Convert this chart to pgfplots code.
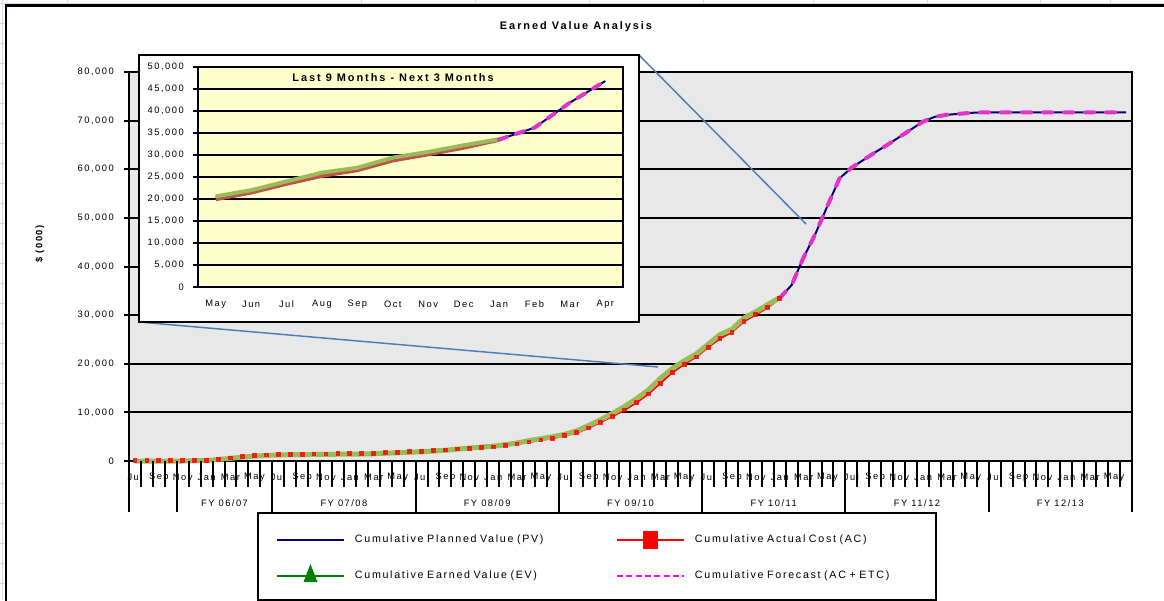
\documentclass[border=0pt]{standalone}
\usepackage{pgfplots}
\usepackage{pgfplotstable}
\pgfplotsset{compat=1.18}
\usepackage{fontspec}
\setmainfont{Liberation Sans}
\newfontfamily\lsp[LetterSpace=16]{Liberation Sans}
\newfontfamily\lspt[LetterSpace=18]{Liberation Sans}

\definecolor{plotgray}{RGB}{232,232,232}
\definecolor{insetyellow}{RGB}{255,255,204}
\definecolor{evgreen}{RGB}{155,187,89}
\definecolor{acbrick}{RGB}{192,80,77}
\definecolor{pvnavy}{RGB}{0,0,128}
\definecolor{fcmag}{RGB}{228,52,200}
\definecolor{legmag}{RGB}{255,0,255}
\definecolor{leggreen}{RGB}{0,128,0}
\definecolor{linkblue}{RGB}{74,126,187}
\definecolor{cellline}{RGB}{212,220,234}

% ---- cumulative values, $ (000); month 0 = Jul 2006 ----
\pgfplotstableread{
m ev ac
0 0 80
1 0 80
2 0 80
3 0 80
4 0 80
5 50 130
6 100 180
7 300 380
8 550 630
9 800 880
10 1000 1080
11 1150 1230
12 1250 1330
13 1300 1380
14 1300 1380
15 1350 1430
16 1350 1430
17 1400 1480
18 1400 1480
19 1450 1530
20 1500 1580
21 1600 1680
22 1700 1780
23 1800 1880
24 1900 1980
25 2050 2130
26 2200 2280
27 2450 2450
28 2650 2600
29 2850 2750
30 3050 2900
31 3350 3200
32 3700 3500
33 4200 3900
34 4600 4300
35 5000 4700
36 5500 5200
37 6200 5800
38 7300 6800
39 8500 8000
40 9800 9200
41 11200 10500
42 12800 12000
43 14600 13800
44 17000 16000
45 19000 18200
46 20600 19900
47 22000 21400
48 24000 23400
49 26000 25200
50 27100 26500
51 29400 28700
52 30700 30100
53 32200 31600
54 33600 33400
}\actuals

\pgfplotstableread{
m pv
0 0
1 0
2 0
3 0
4 0
5 0
6 0
7 150
8 400
9 650
10 850
11 1000
12 1100
13 1150
14 1150
15 1200
16 1200
17 1250
18 1250
19 1300
20 1350
21 1450
22 1550
23 1650
24 1750
25 1900
26 2050
27 2300
28 2500
29 2700
30 2900
31 3200
32 3550
33 4050
34 4450
35 4850
36 5350
37 6050
38 7150
39 8350
40 9650
41 11050
42 12650
43 14450
44 16850
45 18850
46 20450
47 21850
48 23850
49 25850
50 26950
51 29250
52 30550
53 32050
54 33500
55 36200
56 41900
57 46800
58 52500
59 58100
60 60300
61 61900
62 63500
63 65000
64 66600
65 68200
66 69800
67 70800
68 71200
69 71400
70 71600
71 71700
72 71700
73 71700
74 71700
75 71700
76 71700
77 71700
78 71700
79 71700
80 71700
81 71700
82 71700
83 71700
}\planned

\pgfplotstableread{
m fc
54 33500
55 36200
56 41900
57 46800
58 52500
59 58100
60 60300
61 61900
62 63500
63 65000
64 66600
65 68200
66 69800
67 70800
68 71200
69 71400
70 71600
71 71700
72 71700
73 71700
74 71700
75 71700
76 71700
77 71700
78 71700
79 71700
80 71700
81 71700
82 71700
83 71700
}\forecast

% ---- last 9 months / next 3 months; 0 = May 2010 ----
\pgfplotstableread{
m ev ac
0 20600 19900
1 22000 21400
2 24000 23400
3 26000 25200
4 27100 26500
5 29400 28700
6 30700 30100
7 32200 31600
8 33600 33400
}\recent

\pgfplotstableread{
m pv
0 20450
1 21850
2 23850
3 25850
4 26950
5 29250
6 30550
7 32050
8 33500
9 36200
10 41900
11 46800
}\recentpv

\pgfplotstableread{
m fc
8 33500
9 36200
10 41900
11 46800
}\recentfc

\newcommand\tickfont{\lsp\fontsize{7}{8}\selectfont}

\begin{document}
\begin{tikzpicture}

% spreadsheet cells behind the chart object
\begin{scope}[x=0.75pt,y=-0.75pt]
  \draw[cellline, line width=0.75pt] (0,3) -- (1164,3);
  \foreach \cx in {67,361,475,589,703,813,927,1040,1110}
    \draw[cellline, line width=0.75pt] (\cx,0) -- (\cx,4);
  \draw[cellline, line width=0.75pt] (2.5,0) -- (2.5,600);
  \foreach \cy in {23,43,...,600}
    \draw[cellline, line width=0.75pt] (0,\cy) -- (5,\cy);
  % chart area frame
  \draw[black, line width=1.6pt] (6,605) -- (6,5.5) -- (1170,5.5);
  % title and axis title
  \node[font=\lspt\bfseries\fontsize{8.2}{10}\selectfont] at (576,27) {Earned Value Analysis};
  \node[rotate=90, font=\lsp\bfseries\fontsize{7}{8}\selectfont] at (40,244) {\$ (000)};
\end{scope}

% ---------------- main chart ----------------
\begin{axis}[
  at={(96.75pt,-345.75pt)}, anchor=south west,
  scale only axis, width=752.25pt, height=291.75pt,
  xmin=-0.5, xmax=83.5, ymin=0, ymax=80000,
  clip=false, scaled y ticks=false,
  axis background/.style={fill=plotgray},
  axis line style={black, line width=1.6pt},
  ytick={0,10000,20000,30000,40000,50000,60000,70000,80000},
  yticklabels={0,{10,000},{20,000},{30,000},{40,000},{50,000},{60,000},{70,000},{80,000}},
  ymajorgrids, y grid style={black, line width=1.5pt},
  ytick pos=left, ytick align=outside, major tick length=3.75pt,
  ytick style={black, line width=1.5pt},
  yticklabel style={font=\tickfont, anchor=east, inner sep=0pt, xshift=-7.5pt},
  xtick={0,2,...,82},
  xticklabels={Jul,Sep,Nov,Jan,Mar,May,Jul,Sep,Nov,Jan,Mar,May,Jul,Sep,Nov,Jan,Mar,May,Jul,Sep,Nov,Jan,Mar,May,Jul,Sep,Nov,Jan,Mar,May,Jul,Sep,Nov,Jan,Mar,May,Jul,Sep,Nov,Jan,Mar,May},
  xtick style={draw=none},
  xticklabel style={font=\tickfont, anchor=center, inner sep=0pt, yshift=-12pt},
  legend columns=2, legend cell align=left,
  legend style={at={(0.1276,-0.1311)}, anchor=north west, draw=black, line width=1.5pt,
    fill=white, inner xsep=13.5pt, inner ysep=10pt, row sep=8.75pt,
    font=\lsp\fontsize{8}{9.5}\selectfont,
    /tikz/column 1/.style={column sep=7.5pt},
    /tikz/column 2/.style={nodes={inner sep=0pt, text width=195.75pt, align=left}},
    /tikz/column 3/.style={column sep=7.5pt},
    /tikz/column 4/.style={nodes={inner sep=0pt, text width=167.25pt, align=left}}},
  after end axis/.code={
    \foreach \b in {-0.5,0.5,...,83.5}
      \draw[black, line width=1.5pt] (axis cs:\b,0) -- ++(0pt,-19.5pt);
    \foreach \b in {-0.5,3.5,11.5,23.5,35.5,47.5,59.5,71.5,83.5}
      \draw[black, line width=1.5pt] (axis cs:\b,0) -- ++(0pt,-38.25pt);
    \node[font=\tickfont] at ([yshift=-31.5pt]axis cs:7.5,0) {FY 06/07};
    \node[font=\tickfont] at ([yshift=-31.5pt]axis cs:17.5,0) {FY 07/08};
    \node[font=\tickfont] at ([yshift=-31.5pt]axis cs:29.5,0) {FY 08/09};
    \node[font=\tickfont] at ([yshift=-31.5pt]axis cs:41.5,0) {FY 09/10};
    \node[font=\tickfont] at ([yshift=-31.5pt]axis cs:53.5,0) {FY 10/11};
    \node[font=\tickfont] at ([yshift=-31.5pt]axis cs:65.5,0) {FY 11/12};
    \node[font=\tickfont] at ([yshift=-31.5pt]axis cs:77.5,0) {FY 12/13};
  },
]
\addlegendimage{legend image code/.code={
  \path[draw=none, fill=none] (0pt,-8pt) rectangle (50.25pt,10.25pt);
  \draw[pvnavy, line width=1.5pt] (0pt,0pt) -- (50.25pt,0pt);}}
\addlegendentry{Cumulative Planned Value (PV)}
\addlegendimage{legend image code/.code={
  \path[draw=none, fill=none] (0pt,-8pt) rectangle (50.25pt,10.25pt);
  \draw[red, line width=1.5pt] (0pt,0pt) -- (50.25pt,0pt);
  \fill[red, draw=none] (19.5pt,-6.4pt) rectangle (30.75pt,6.4pt);}}
\addlegendentry{Cumulative Actual Cost (AC)}
\addlegendimage{legend image code/.code={
  \path[draw=none, fill=none] (0pt,-8pt) rectangle (50.25pt,10.25pt);
  \draw[leggreen, line width=1.5pt] (0pt,0pt) -- (50.25pt,0pt);
  \fill[leggreen, draw=none] (25.1pt,9pt) -- (19.9pt,-4.5pt) -- (30.4pt,-4.5pt) -- cycle;}}
\addlegendentry{Cumulative Earned Value (EV)}
\addlegendimage{legend image code/.code={
  \path[draw=none, fill=none] (0pt,-8pt) rectangle (50.25pt,10.25pt);
  \draw[legmag, line width=1.5pt, dash pattern=on 4.5pt off 2.5pt] (0pt,0pt) -- (50.25pt,0pt);}}
\addlegendentry{Cumulative Forecast (AC + ETC)}

\addplot[forget plot, pvnavy, line width=1.5pt] table[x=m, y=pv] {\planned};
\addplot[forget plot, red, line width=1.4pt, mark=square*, mark size=1.1pt,
  mark options={fill=acbrick, draw=none, opacity=0.8}] table[x=m, y=ac] {\actuals};
\addplot[forget plot, evgreen, line width=3.75pt, line join=round] table[x=m, y=ev] {\actuals};
\addplot[forget plot, fcmag, line width=3pt, line cap=round,
  dash pattern=on 6.75pt off 9pt] table[x=m, y=fc] {\forecast};
\end{axis}

% connector lines from the detail panel
\begin{scope}[x=0.75pt,y=-0.75pt]
  \draw[linkblue, line width=1.1pt] (639,55) -- (806,224);
  \draw[linkblue, line width=1.1pt] (139,322) -- (658,367);
  \draw[black, line width=1.6pt, fill=white] (139,55) rectangle (639,322);
\end{scope}

% ---------------- detail panel ----------------
\begin{axis}[
  at={(148.5pt,-215.25pt)}, anchor=south west,
  scale only axis, width=318.75pt, height=165pt,
  xmin=-0.5, xmax=11.5, ymin=0, ymax=50000,
  scaled y ticks=false,
  axis background/.style={fill=insetyellow},
  axis line style={black, line width=1.8pt},
  ytick={0,5000,10000,15000,20000,25000,30000,35000,40000,45000,50000},
  yticklabels={0,{5,000},{10,000},{15,000},{20,000},{25,000},{30,000},{35,000},{40,000},{45,000},{50,000}},
  ymajorgrids, y grid style={black, line width=1.5pt},
  ytick pos=left, ytick align=outside, major tick length=3.75pt,
  ytick style={black, line width=1.5pt},
  yticklabel style={font=\tickfont, anchor=east, inner sep=0pt, xshift=-6.75pt},
  xtick={0,...,11},
  xticklabels={May,Jun,Jul,Aug,Sep,Oct,Nov,Dec,Jan,Feb,Mar,Apr},
  xtick style={draw=none},
  xticklabel style={font=\tickfont, anchor=center, inner sep=0pt, yshift=-12.75pt},
]
\addplot[pvnavy, line width=1.5pt] table[x=m, y=pv] {\recentpv};
\addplot[acbrick, line width=2.6pt, line join=round] table[x=m, y=ac] {\recent};
\addplot[evgreen, line width=3pt, line join=round] table[x=m, y=ev] {\recent};
\addplot[fcmag, line width=3pt, line cap=round, dash pattern=on 6pt off 7.5pt] table[x=m, y=fc] {\recentfc};
\end{axis}

\begin{scope}[x=0.75pt,y=-0.75pt]
  \node[font=\lspt\bfseries\fontsize{8.2}{10}\selectfont] at (393,78) {Last 9 Months - Next 3 Months};
  \pgfresetboundingbox
  \path[use as bounding box] (0,0) rectangle (1164,600);
\end{scope}
\end{tikzpicture}
\end{document}
